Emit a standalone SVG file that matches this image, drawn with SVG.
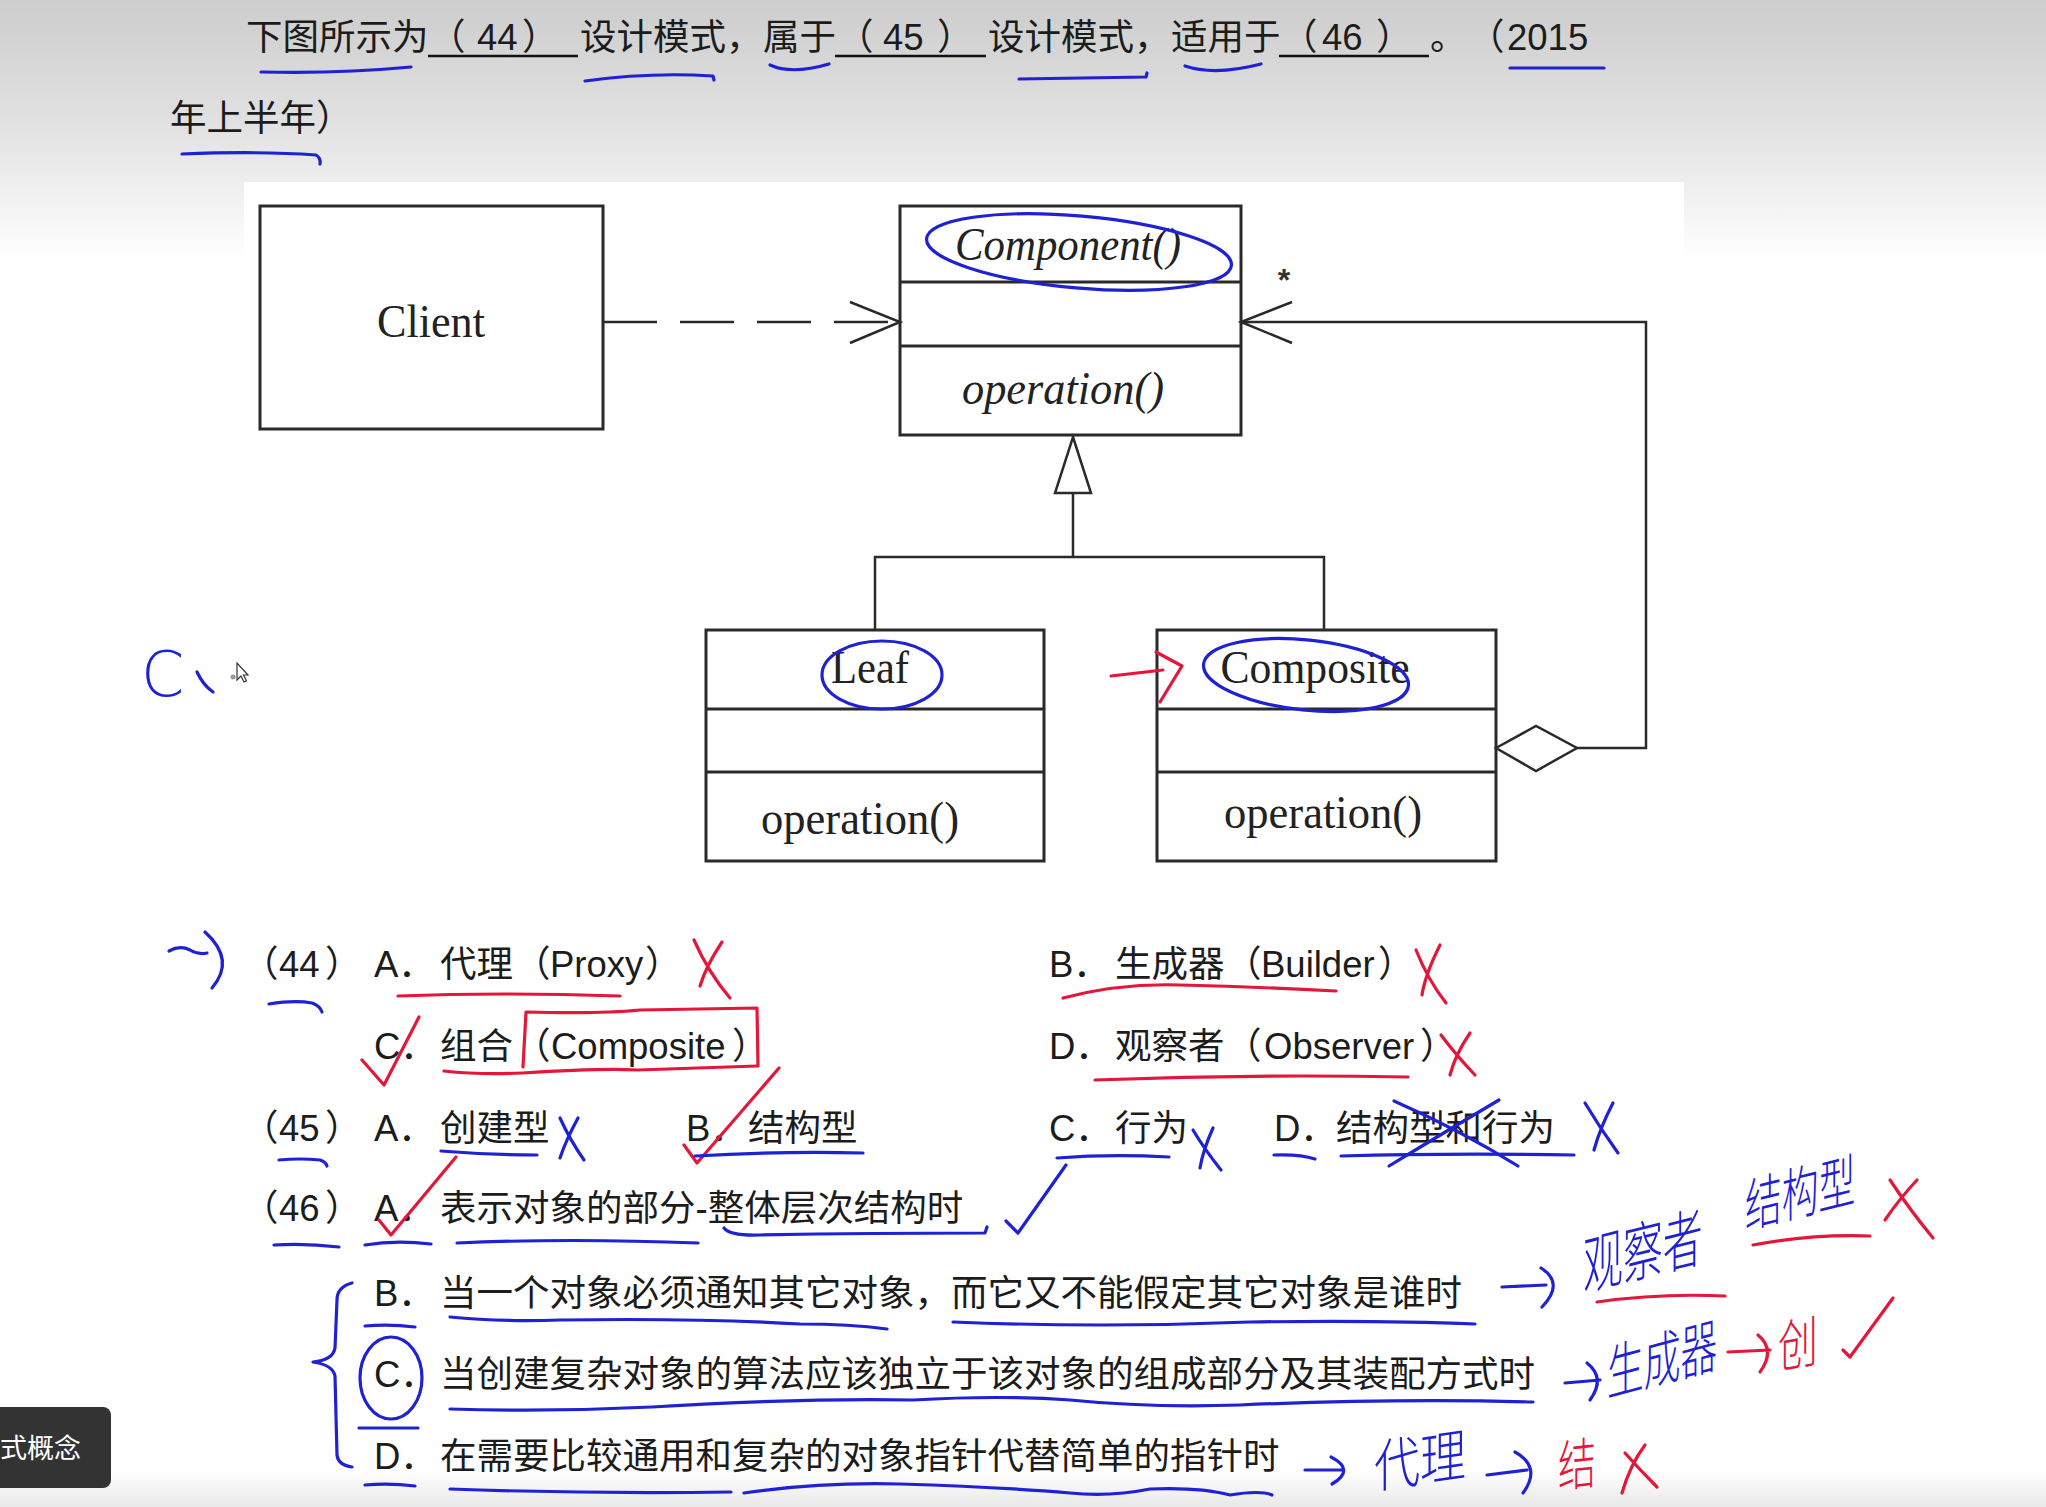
<svg xmlns="http://www.w3.org/2000/svg" width="2046" height="1507" viewBox="0 0 2046 1507">
<style>
.t{font-family:"Liberation Sans","Noto Sans CJK SC",sans-serif;font-size:36.5px;fill:#1c1c1c}
.u{font-family:"Liberation Serif",serif;font-size:46px;fill:#222}
.ui{font-style:italic}
.box{fill:#fff;stroke:#2a2a2a;stroke-width:3}
.ln{fill:none;stroke:#2a2a2a;stroke-width:2.5}
.b{fill:none;stroke:#1f22d2;stroke-width:3.2;stroke-linecap:round;stroke-linejoin:round}
.r{fill:none;stroke:#e3173a;stroke-width:3.2;stroke-linecap:round;stroke-linejoin:round}
.ub{fill:none;stroke:#111;stroke-width:2.5}
.hb{font-family:"Noto Sans CJK SC",sans-serif;fill:#1f22d2;font-weight:300}
.hr{font-family:"Noto Sans CJK SC",sans-serif;fill:#e3173a;font-weight:300}
</style>
<defs>
<linearGradient id="bg" x1="0" y1="0" x2="0" y2="1">
<stop offset="0" stop-color="#cdcdcd"/>
<stop offset="0.45" stop-color="#e0e0e0"/>
<stop offset="0.8" stop-color="#f3f3f3"/>
<stop offset="1" stop-color="#ffffff"/>
</linearGradient>
<linearGradient id="bg2" x1="0" y1="0" x2="0" y2="1">
<stop offset="0" stop-color="#ffffff"/>
<stop offset="1" stop-color="#e9e9e9"/>
</linearGradient>
</defs>
<rect width="2046" height="1507" fill="#fff"/>
<rect width="2046" height="260" fill="url(#bg)"/>
<rect y="1470" width="2046" height="37" fill="url(#bg2)"/>
<rect x="244" y="182" width="1440" height="718" fill="#fff"/>

<g id="title">
<text class="t" y="50"><tspan x="246">下图所示为</tspan><tspan x="429">（</tspan><tspan x="477">44</tspan><tspan x="522">）</tspan><tspan x="580">设计模式，</tspan><tspan x="763">属于</tspan><tspan x="837">（</tspan><tspan x="883">45</tspan><tspan x="937">）</tspan><tspan x="988">设计模式，</tspan><tspan x="1171">适用于</tspan><tspan x="1281">（</tspan><tspan x="1322">46</tspan><tspan x="1376">）</tspan><tspan x="1430">。</tspan><tspan x="1468">（</tspan><tspan x="1507">2015</tspan></text>
<text class="t" x="170" y="131">年上半年）</text>
<path class="ub" d="M428 56H578M835 56H986M1279 56H1429"/>
</g>

<g id="title-marks">
<path class="b" d="M261 72Q336 74 411 67"/>
<path class="b" d="M585 81Q650 72 713 76L714 80"/>
<path class="b" d="M770 65Q792 75 829 64"/>
<path class="b" d="M1019 79L1146 77L1147 73"/>
<path class="b" d="M1185 66Q1215 76 1261 64"/>
<path class="b" d="M1510 68H1604"/>
<path class="b" d="M182 154Q260 151 316 155Q321 158 320 164"/>
</g>

<g id="client">
<rect class="box" x="260" y="206" width="343" height="223"/>
<text class="u" x="431" y="337" text-anchor="middle" textLength="108" lengthAdjust="spacingAndGlyphs">Client</text>
</g>

<g id="component">
<rect class="box" x="900" y="206" width="341" height="229"/>
<path class="ln" d="M900 282H1241M900 346H1241" style="stroke-width:3"/>
<text class="u ui" x="1068" y="260" text-anchor="middle" textLength="226" lengthAdjust="spacingAndGlyphs">Component()</text>
<text class="u ui" x="1063" y="404" text-anchor="middle" textLength="202" lengthAdjust="spacingAndGlyphs">operation()</text>
</g>

<g id="leaf">
<rect class="box" x="706" y="630" width="338" height="231"/>
<path class="ln" d="M706 709H1044M706 772H1044" style="stroke-width:3"/>
<text class="u" x="870" y="683" text-anchor="middle" textLength="78" lengthAdjust="spacingAndGlyphs">Leaf</text>
<text class="u" x="860" y="834" text-anchor="middle" textLength="198" lengthAdjust="spacingAndGlyphs">operation()</text>
</g>

<g id="composite">
<rect class="box" x="1157" y="630" width="339" height="231"/>
<path class="ln" d="M1157 709H1496M1157 772H1496" style="stroke-width:3"/>
<text class="u" x="1315" y="683" text-anchor="middle" textLength="189" lengthAdjust="spacingAndGlyphs">Composite</text>
<text class="u" x="1323" y="828" text-anchor="middle" textLength="198" lengthAdjust="spacingAndGlyphs">operation()</text>
</g>

<g id="connectors">
<path class="ln" d="M603 322H900" stroke-dasharray="54 23"/>
<path class="ln" d="M850 302L900 322L850 343"/>
<path class="ln" d="M1577 748H1646V322H1241"/>
<path class="ln" d="M1292 302L1241 322L1292 343"/>
<path class="ln" d="M1496 748L1536 726L1577 748L1536 771Z" style="fill:#fff"/>
<path class="ln" d="M1073 437L1091 493H1055Z" style="fill:#fff"/>
<path class="ln" d="M1073 493V557M875 630V557H1324V630"/>
<text x="1284" y="291" style="font-family:'Liberation Sans',sans-serif;font-size:32px;font-weight:bold;fill:#333" text-anchor="middle">*</text>
</g>

<g id="diagram-marks">
<ellipse class="b" cx="1079" cy="252" rx="153" ry="36" transform="rotate(5 1079 252)"/>
<ellipse class="b" cx="882" cy="675" rx="60" ry="34"/>
<ellipse class="b" cx="1306" cy="675" rx="103" ry="35" transform="rotate(6 1306 675)"/>
<path class="r" d="M1111 676L1163 670M1156 652L1182 666L1160 702"/>
<text class="hb" x="141" y="696" style="font-family:'DejaVu Sans',sans-serif;font-weight:200;font-size:62px">C</text>
<path class="b" d="M197 672Q203 685 213 692"/>
<circle cx="233" cy="677" r="2.5" fill="#999"/>
<path d="M237 663L237 680L241 676L244 682L246.5 681L243.5 675L248 675Z" fill="#fff" stroke="#333" stroke-width="1.2"/>
</g>

<g id="options">
<text class="t" y="977"><tspan x="242">（</tspan><tspan x="279">44</tspan><tspan x="325">）</tspan><tspan x="374">A．</tspan><tspan x="440">代理</tspan><tspan x="514">（</tspan><tspan x="550">Proxy</tspan><tspan x="645">）</tspan><tspan x="1049">B．</tspan><tspan x="1115">生成器</tspan><tspan x="1225">（</tspan><tspan x="1261">Builder</tspan><tspan x="1378">）</tspan></text>
<text class="t" y="1059"><tspan x="374">C．</tspan><tspan x="440">组合</tspan><tspan x="514">（</tspan><tspan x="551">Composite</tspan><tspan x="732">）</tspan><tspan x="1049">D．</tspan><tspan x="1115">观察者</tspan><tspan x="1225">（</tspan><tspan x="1264">Observer</tspan><tspan x="1420">）</tspan></text>
<text class="t" y="1141"><tspan x="242">（</tspan><tspan x="279">45</tspan><tspan x="325">）</tspan><tspan x="374">A．</tspan><tspan x="440">创建型</tspan><tspan x="686">B．</tspan><tspan x="748">结构型</tspan><tspan x="1049">C．</tspan><tspan x="1115">行为</tspan><tspan x="1274">D．</tspan><tspan x="1336">结构型和行为</tspan></text>
<text class="t" y="1221"><tspan x="242">（</tspan><tspan x="279">46</tspan><tspan x="325">）</tspan><tspan x="374">A．</tspan><tspan x="440">表示对象的部分-整体层次结构时</tspan></text>
<text class="t" y="1306"><tspan x="374">B．</tspan><tspan x="440">当一个对象必须通知其它对象，而它又不能假定其它对象是谁时</tspan></text>
<text class="t" y="1387"><tspan x="374">C．</tspan><tspan x="440">当创建复杂对象的算法应该独立于该对象的组成部分及其装配方式时</tspan></text>
<text class="t" y="1469"><tspan x="374">D．</tspan><tspan x="440">在需要比较通用和复杂的对象指针代替简单的指针时</tspan></text>
</g>

<g id="option-marks">
<path class="b" d="M169 951Q180 945 190 950Q198 955 207 953M205 932Q236 960 212 988"/>
<path class="b" d="M269 1004Q295 1000 312 1003Q320 1006 322 1012"/>
<path class="r" d="M398 996Q500 992 620 996"/>
<path class="r" d="M694 940Q708 972 730 998M722 942Q706 966 700 986"/>
<path class="r" d="M1063 998Q1120 983 1180 985Q1260 987 1336 991"/>
<path class="r" d="M1416 950Q1428 980 1446 1003M1440 945Q1425 975 1422 995"/>
<path class="r" d="M362 1060L384 1085L419 1017"/>
<path class="r" d="M523 1067L526 1012Q600 1014 640 1010L757 1008L758 1066"/>
<path class="r" d="M444 1071Q480 1075 523 1073Q600 1068 638 1070L757 1066"/>
<path class="r" d="M1095 1080Q1250 1074 1408 1077"/>
<path class="r" d="M1441 1035Q1456 1055 1475 1075M1470 1033Q1455 1055 1450 1075"/>
<path class="b" d="M279 1160Q300 1158 320 1160Q326 1162 327 1166"/>
<path class="b" d="M441 1151Q490 1155 537 1155"/>
<path class="b" d="M560 1118Q570 1140 584 1160M578 1118Q566 1140 560 1158"/>
<path class="r" d="M684 1145L697 1163L779 1068"/>
<path class="b" d="M695 1156Q780 1151 863 1153"/>
<path class="b" d="M1057 1158Q1110 1154 1169 1157"/>
<path class="b" d="M1193 1130Q1205 1150 1221 1170M1213 1128Q1203 1150 1200 1168"/>
<path class="b" d="M1274 1155Q1300 1154 1315 1159"/>
<path class="b" d="M1341 1156Q1450 1153 1574 1155"/>
<path class="b" d="M1394 1101Q1460 1130 1518 1166M1499 1100Q1440 1135 1389 1166"/>
<path class="b" d="M1585 1103Q1600 1128 1618 1153M1613 1103Q1600 1128 1594 1150"/>
<path class="r" d="M379 1220L391 1235L456 1157"/>
<path class="b" d="M1006 1221L1018 1233L1066 1165"/>
<path class="b" d="M274 1245Q305 1243 339 1247"/>
<path class="b" d="M365 1245Q395 1240 431 1244"/>
<path class="b" d="M457 1243Q570 1238 698 1243"/>
<path class="b" d="M724 1228Q730 1236 760 1235Q870 1233 985 1233L987 1227"/>
<path class="b" d="M352 1283Q337 1287 337 1300L335 1348Q333 1360 313 1362Q333 1365 335 1376L337 1455Q338 1465 352 1467"/>
<path class="b" d="M365 1326Q390 1324 415 1327"/>
<path class="b" d="M450 1317Q500 1322 560 1320Q700 1318 800 1324Q850 1324 887 1329"/>
<path class="b" d="M953 1322Q1100 1328 1250 1322Q1380 1320 1475 1324"/>
<path class="b" d="M1502 1287L1546 1285M1541 1268Q1565 1283 1542 1307"/>
<text class="hb" font-size="42" transform="translate(1583 1290) skewY(-14) scale(0.95 1.55)">观察者</text>
<path class="r" d="M1597 1302Q1660 1293 1725 1296"/>
<text class="hb" font-size="40" transform="translate(1745 1228) skewY(-14) scale(0.92 1.45)">结构型</text>
<path class="r" d="M1753 1245Q1810 1234 1870 1236"/>
<path class="r" d="M1890 1180Q1910 1210 1933 1238M1917 1180Q1900 1198 1885 1220"/>
<ellipse class="b" cx="391" cy="1378" rx="31" ry="41"/>
<path class="b" d="M359 1428H418"/>
<path class="b" d="M450 1409Q550 1412 652 1407Q800 1398 913 1400Q1000 1395 1070 1400Q1150 1408 1240 1405Q1400 1398 1533 1402"/>
<path class="b" d="M1565 1383L1600 1380M1587 1363Q1606 1378 1590 1400"/>
<text class="hb" font-size="40" transform="translate(1607 1396) skewY(-15) scale(0.92 1.5)">生成器</text>
<path class="r" d="M1728 1352L1770 1350M1758 1335Q1776 1350 1760 1372"/>
<text class="hr" font-size="40" transform="translate(1778 1368) skewY(-10) scale(1 1.4)">创</text>
<path class="r" d="M1843 1350L1850 1357L1893 1298"/>
<path class="b" d="M365 1485Q390 1483 415 1486"/>
<path class="b" d="M450 1489Q590 1494 731 1492"/>
<path class="b" d="M744 1493Q820 1482 900 1484Q1000 1487 1070 1493Q1110 1497 1150 1489Q1200 1487 1230 1495Q1260 1490 1272 1495"/>
<path class="b" d="M1305 1470H1342M1331 1457Q1356 1470 1332 1484"/>
<text class="hb" font-size="46" transform="translate(1374 1488) skewY(-8) scale(1 1.25)">代理</text>
<path class="b" d="M1487 1475L1527 1470M1515 1452Q1542 1467 1523 1493"/>
<text class="hr" font-size="40" transform="translate(1558 1487) skewY(-6) scale(0.95 1.4)">结</text>
<path class="r" d="M1622 1493Q1630 1465 1645 1445M1625 1453Q1640 1470 1657 1487"/>
</g>

<g id="tab">
<rect x="-10" y="1407" width="121" height="81" rx="8" fill="#333"/>
<text x="0" y="1458" style="font-family:'Noto Sans CJK SC',sans-serif;font-size:27px;fill:#fff">式概念</text>
</g>
</svg>
